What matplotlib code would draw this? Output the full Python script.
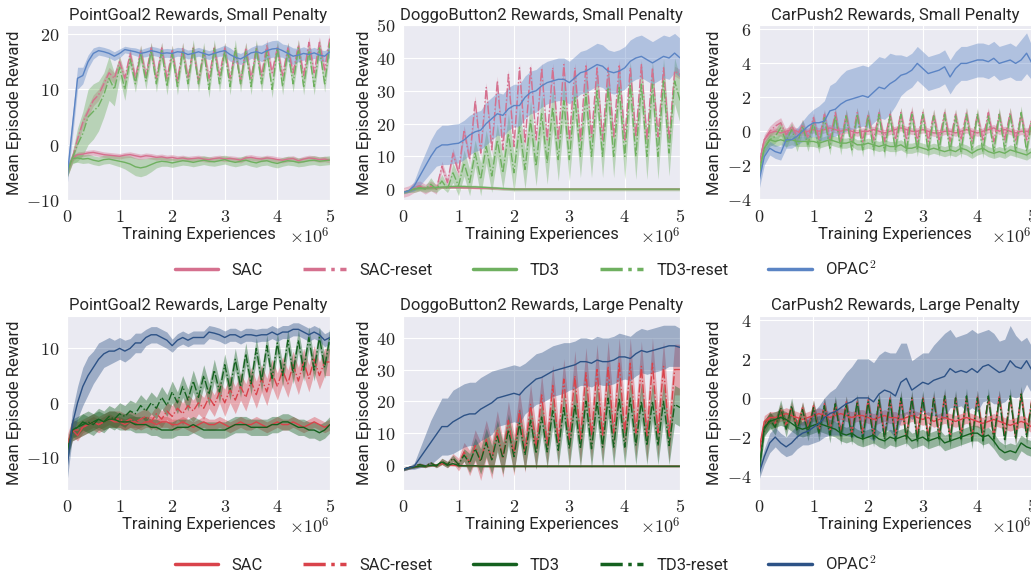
import numpy as np
import matplotlib
matplotlib.use("Agg")
import matplotlib.pyplot as plt
import seaborn as sns
from matplotlib.lines import Line2D
from matplotlib.ticker import FuncFormatter

sns.set_style("darkgrid")
plt.rcParams["font.family"] = ["Roboto", "DejaVu Sans"]
plt.rcParams["mathtext.fontset"] = "cm"

# training experiences, in millions (one sample every 1e5 steps)
steps = np.round(np.arange(51) * 0.1, 1)

# ---------------- PointGoal2, small penalty ----------------
pg_small_sac = [
    -5, -2.5, -1.8, -1.7, -1.5, -1.4, -1.6, -1.8, -1.9, -2.0,
    -2.1, -1.9, -1.8, -2.0, -2.2, -2.0, -2.1, -2.3, -2.2, -2.4,
    -2.3, -2.5, -2.4, -2.6, -2.5, -2.4, -2.6, -2.7, -2.5, -2.4,
    -2.6, -2.5, -2.6, -2.8, -2.4, -2.3, -2.5, -2.6, -2.4, -2.5,
    -2.7, -2.8, -2.6, -2.5, -2.9, -2.6, -2.4, -2.5, -2.7, -2.6,
    -2.8,
]
pg_small_sac_reset = [
    -5, -2.5, 1, 4, 6, 8, 9, 11, 13, 12,
    15, 12, 16.5, 12, 17, 12.5, 17.5, 12, 17.5, 12,
    17, 11.5, 17.5, 12, 17.5, 11.5, 17, 12, 17.5, 12.5,
    17.5, 12, 17, 11.5, 17.5, 12, 17.5, 12.5, 18, 13,
    17.5, 12.5, 17.5, 13, 18, 12.5, 18.5, 13, 18.5, 13.5,
    19.5,
]
pg_small_td3 = [
    -5, -2.5, -2.4, -2.6, -2.5, -2.8, -3.0, -2.7, -2.6, -2.8,
    -3.0, -3.2, -3.5, -4.0, -4.2, -4.0, -3.6, -3.2, -3.0, -3.1,
    -3.3, -3.1, -2.9, -3.0, -3.2, -3.0, -2.8, -3.0, -3.1, -2.9,
    -2.7, -3.0, -3.2, -3.0, -2.8, -3.1, -3.3, -3.0, -2.9, -3.2,
    -3.4, -3.1, -2.9, -3.0, -3.2, -3.1, -2.9, -2.8, -3.0, -2.9,
    -2.8,
]
pg_small_td3_band = [
    1, 0.8, 0.8, 0.8, 0.8, 0.8, 0.8, 0.8, 0.8, 0.9,
    1.0, 1.2, 1.5, 1.6, 1.6, 1.5, 1.3, 1.0, 0.9, 0.8,
    0.8, 0.8, 0.8, 0.8, 0.8, 0.8, 0.8, 0.8, 0.8, 0.8,
    0.8, 0.8, 0.8, 0.8, 0.8, 0.8, 0.8, 0.8, 0.8, 0.8,
    0.8, 0.8, 0.8, 0.8, 0.8, 0.8, 0.8, 0.8, 0.8, 0.8,
    0.8,
]
pg_small_td3_reset = [
    -5, -2.5, 0, 2, 5, 6, 7, 9, 12, 10,
    14, 10, 15.5, 11, 16.5, 11.5, 17, 11, 17, 10.5,
    16.5, 10.5, 17, 11, 17.5, 11, 17, 10, 17.5, 11,
    17, 10.5, 17.5, 11, 17, 10.5, 17.5, 11, 17, 10,
    17.5, 10.5, 17, 11, 17.5, 10.5, 17, 10.5, 17.5, 11,
    18.5,
]
pg_small_td3_reset_band = [
    1, 1, 3, 4, 5, 5, 4.5, 4, 4, 3,
    2, 2, 1.5, 1.5, 1.5, 1.5, 1.5, 1.5, 1.5, 1.5,
    1.5, 1.5, 1.5, 1.5, 1.5, 1.5, 1.5, 1.5, 1.5, 1.5,
    1.5, 1.5, 1.5, 1.5, 1.5, 1.5, 1.5, 1.5, 1.5, 1.5,
    1.5, 1.5, 1.5, 1.5, 1.5, 1.5, 1.5, 1.5, 1.5, 1.5,
    1.5,
]
pg_small_opac = [
    -6, 3, 12, 12.5, 15, 16.5, 17, 16.8, 16.5, 16,
    16.5, 17.2, 17, 16.8, 16.5, 16.7, 17, 16.8, 16.5, 16.6,
    16.5, 16.8, 16.7, 16.3, 16.5, 16.8, 16.5, 16.2, 16.5, 16.8,
    17, 16.3, 15.8, 15.5, 16, 16.6, 16.8, 16.5, 17, 17.3,
    17.4, 17, 16.5, 16, 16.2, 16.5, 16.3, 16.6, 16.2, 16,
    16.8,
]
pg_small_opac_band = [
    1.5, 2, 2, 1.5, 1.2, 1, 0.8, 0.8, 0.8, 0.8,
    0.8, 0.6, 0.6, 0.7, 0.7, 0.8, 0.8, 0.8, 0.8, 0.8,
    0.8, 0.8, 0.8, 0.8, 0.8, 0.8, 0.8, 0.8, 0.8, 0.8,
    1, 1.2, 1, 1, 1, 1, 1.2, 1.5, 1.5, 1.5,
    1.5, 1.2, 1.5, 1.5, 1.2, 1.2, 1, 1, 1, 1,
    1,
]

# ---------------- DoggoButton2, small penalty ----------------
db_small_sac = [
    -1, -0.5, 0.2, 0.3, 0.3, 0.4, 0.4, 0.5, 0.5, 0.5,
    0.5, 0.4, 0.4, 0.3, 0.3, 0.3, 0.2, 0.2, 0.1, 0.1,
    0.0, 0.0, 0.0, 0.0, 0.0, 0.0, 0.0, 0.0, 0.0, 0.0,
    0.0, 0.0, 0.0, 0.0, 0.0, 0.0, 0.0, 0.0, 0.0, 0.0,
    0.0, 0.0, 0.0, 0.0, 0.0, 0.0, 0.0, 0.0, 0.0, 0.0,
    0.0,
]
db_small_sac_reset = [
    -1, -0.5, 0.5, 1, 0, 1, 0, 7, 2, 11,
    5, 18, 9, 27, 11, 31, 12, 33, 12, 35,
    13, 37, 14, 37, 15, 37, 15, 37, 15, 38,
    15, 37, 15, 38, 16, 37, 15, 37, 16, 38,
    15, 37, 16, 38, 15, 37, 16, 37, 15, 36,
    35,
]
db_small_td3 = [
    -1, -0.5, 0.1, 0.2, 0.3, 0.4, 0.5, 0.6, 0.7, 0.8,
    0.8, 0.8, 0.7, 0.7, 0.6, 0.5, 0.4, 0.3, 0.2, 0.1,
    0.0, 0.0, 0.0, 0.0, 0.0, 0.0, 0.0, 0.0, 0.0, 0.0,
    0.0, 0.0, 0.0, 0.0, 0.0, 0.0, 0.0, 0.0, 0.0, 0.0,
    0.0, 0.0, 0.0, 0.0, 0.0, 0.0, 0.0, 0.0, 0.0, 0.0,
    0.0,
]
db_small_td3_reset = [
    -1, -0.5, 0, 0.5, 0, 1.5, 0, 2.5, 0, 5,
    1, 8, 2, 11, 3, 13, 4, 15, 5, 17,
    5, 19, 6, 21, 7, 23, 8, 25, 9, 27,
    9, 28, 10, 29, 10, 30, 10, 31, 10, 31,
    10, 32, 10, 32, 10, 32, 10, 33, 11, 33,
    27,
]
db_small_td3_reset_band = [
    0.3, 0.5, 1, 1, 1, 2, 1, 2, 1, 3,
    3, 4, 4, 4, 5, 5, 5, 5, 5, 6,
    6, 6, 6, 6, 6, 6, 6.5, 6.5, 6.5, 6.5,
    6.5, 6.5, 6.5, 6.5, 6.5, 6.5, 6.5, 6.5, 6.5, 6.5,
    7, 7, 7, 7, 7, 7, 7, 7, 7, 7,
    7,
]
db_small_opac = [
    -1, -0.5, 1, 4, 7, 10, 12.5, 13.5, 13.5, 13.8,
    14, 15, 16.5, 17.5, 18, 20, 21.5, 23, 22.5, 24.5,
    25.5, 25.5, 28, 29.5, 30, 31.5, 32.5, 33, 33.5, 33.5,
    32.5, 34, 35.5, 36, 37, 38, 37.5, 36, 35.5, 36,
    37, 39, 40, 40.5, 39.5, 38.5, 39.5, 40.5, 40, 41.5,
    40,
]
db_small_opac_band = [
    0.3, 0.5, 1.5, 3, 4, 5, 5.5, 6, 6, 6,
    6, 6, 6, 6, 6, 6.5, 6.5, 6.5, 6.5, 6.5,
    6.5, 6.5, 6.5, 6.5, 6.5, 6.5, 6.5, 6.5, 6.5, 6.5,
    6.5, 6.5, 6.5, 6.5, 6.5, 6.5, 6.5, 6.5, 6.5, 6.5,
    6.5, 6.5, 6.5, 6.5, 6.5, 6.5, 6.5, 6.5, 6.5, 6,
    6,
]

# ---------------- CarPush2, small penalty ----------------
cp_small_sac = [
    -2, -0.5, -0.1, 0, -0.1, 0, 0.1, 0, -0.1, 0,
    0.1, 0, 0.1, 0.2, 0.1, 0, 0.1, 0, -0.1, 0,
    0, 0.1, 0, -0.1, 0, 0.1, 0.2, 0.1, 0, 0,
    0.1, 0, -0.1, -0.1, 0, 0, -0.1, 0, 0.1, 0,
    -0.1, 0, 0.1, 0.2, 0, 0.1, 0, -0.1, 0, 0,
    0,
]
cp_small_sac_reset = [
    -2, -0.5, 0, 0.3, 0.5, -0.2, 0.3, -0.3, 0.4, -0.4,
    0.8, -0.5, 1.0, -0.5, 1.1, -0.6, 1.0, -0.6, 1.1, -0.6,
    1.0, -0.5, 1.1, -0.6, 1.0, -0.5, 1.1, -0.5, 1.2, -0.6,
    1.1, -0.6, 1.0, -0.5, 1.1, -0.6, 1.0, -0.5, 1.1, -0.6,
    1.0, -0.5, 1.1, -0.6, 1.0, -0.5, 1.1, -0.6, 1.0, -0.5,
    0.8,
]
cp_small_td3 = [
    -2.5, -1, -0.5, -0.6, -0.5, -0.6, -0.5, -0.6, -0.6, -0.6,
    -0.6, -0.7, -0.6, -0.5, -0.6, -0.7, -0.7, -0.6, -0.8, -0.8,
    -0.7, -0.8, -0.9, -0.8, -0.9, -0.9, -0.8, -1.0, -1.0, -0.9,
    -1.0, -1.1, -1.0, -1.1, -1.2, -1.1, -1.2, -1.0, -1.1, -1.3,
    -1.1, -1.0, -1.2, -1.3, -1.2, -1.3, -1.1, -1.2, -1.3, -1.4,
    -1.2,
]
cp_small_td3_reset = [
    -2.5, -1, -0.5, -0.3, 0.2, -0.6, 0.1, -0.8, 0.3, -0.8,
    0.5, -0.9, 0.8, -1.0, 0.9, -1.0, 0.9, -1.1, 1.0, -1.1,
    0.9, -1.1, 1.0, -1.2, 0.9, -1.1, 1.0, -1.2, 1.0, -1.1,
    1.0, -1.2, 0.9, -1.1, 1.0, -1.2, 0.9, -1.2, 1.0, -1.1,
    1.0, -1.2, 0.9, -1.2, 1.0, -1.1, 1.0, -1.2, 1.1, -1.2,
    0.8,
]
cp_small_opac = [
    -3, -1.5, -1, -1.2, -1.3, -0.5, -0.5, -0.3, 0, 0.3,
    0.5, 0.5, 0.6, 1.2, 1.3, 1.6, 1.8, 1.9, 2.0, 2.1,
    2.0, 2.3, 2.6, 2.5, 2.8, 3.0, 3.3, 3.4, 3.6, 4.0,
    3.7, 3.4, 3.5, 3.6, 3.8, 3.2, 3.7, 4.0, 4.0, 4.1,
    4.2, 4.2, 4.1, 4.3, 4.0, 4.1, 4.2, 4.0, 4.2, 4.6,
    4.0,
]
cp_small_opac_band = [
    0.5, 0.5, 0.4, 0.4, 0.4, 0.5, 0.5, 0.5, 0.6, 0.7,
    0.8, 1.0, 1.2, 1.5, 1.6, 1.7, 1.8, 1.8, 1.8, 1.8,
    1.8, 1.8, 1.8, 1.8, 1.8, 1.5, 1.2, 1.0, 1.0, 1.0,
    1.0, 1.0, 1.0, 1.0, 1.0, 1.0, 1.0, 1.0, 1.0, 1.0,
    1.0, 1.0, 1.0, 1.0, 1.0, 1.0, 1.0, 1.0, 1.2, 1.2,
    1.0,
]

# ---------------- PointGoal2, large penalty ----------------
pg_large_sac = [
    -8, -5, -6, -4.5, -4, -3.5, -4, -3.5, -3, -3.5,
    -3.5, -4, -3.5, -3.5, -4, -3.5, -3.5, -4, -3.5, -3.5,
    -4, -4, -3.5, -4, -4.5, -4, -3.5, -4, -4, -3.5,
    -4, -4.5, -4, -3.5, -4, -4, -3.5, -4, -4.5, -4,
    -3.5, -4, -4, -3.5, -4, -4.5, -4, -3.5, -4, -4.5,
    -4,
]
pg_large_sac_reset = [
    -8, -5, -5, -4.5, -4, -3.5, -4, -3.5, -3, -3,
    -3, -3.5, -3, -3.5, -3, -2.5, -3.5, -2, -3, -1.5,
    -2.5, -1, -2, -0.5, -1.5, 0, -1, 1, -0.5, 2,
    0, 2.5, 0.5, 3, 1, 4, 1.5, 4.5, 2, 5.5,
    3, 6, 3.5, 7, 4, 7.5, 4.5, 8, 5, 7.5,
    7.5,
]
pg_large_sac_reset_band = [
    2, 2, 1.5, 1.5, 1.5, 1.5, 1.5, 1.5, 1.5, 1.5,
    1.5, 1.5, 1.5, 1.5, 1.5, 1.5, 1.5, 1.5, 1.5, 1.5,
    2, 2, 2, 2, 2, 2, 2, 2, 2, 2,
    2.5, 2.5, 2.5, 2.5, 2.5, 2.5, 2.5, 2.5, 2.5, 2.5,
    2.5, 2.5, 2.5, 2.5, 2.5, 2.5, 2.5, 2.5, 2.5, 2.5,
    2.5,
]
pg_large_td3 = [
    -9, -5, -4.5, -3.5, -4, -3.5, -3, -3.5, -3, -3,
    -3.5, -3.5, -3.5, -4, -4, -4, -4.5, -4.5, -5, -5,
    -5, -4.5, -4.5, -4.5, -4, -4.5, -5, -5, -5, -5,
    -5, -4.5, -4, -4, -4, -4.5, -4.5, -4.5, -4.5, -4,
    -4, -3.5, -3.5, -4, -4.5, -4.5, -5, -5, -5.5, -5,
    -4,
]
pg_large_td3_reset = [
    -9, -5, -4.5, -4, -3.5, -4, -3, -3.5, -2.5, -3,
    -2, -2.5, -1.5, -2, -0.5, -1.5, 0, -1, 1, -0.5,
    2, 0, 3, 0.5, 4, 1, 5, 1.5, 6, 2,
    7, 2.5, 8, 3, 9, 3.5, 10, 4, 10.5, 4.5,
    11, 5, 11.5, 5.5, 11.5, 6, 12, 6, 12, 6.5,
    12,
]
pg_large_opac = [
    -12, -4, 0, 3, 5, 6.5, 8, 9, 9.5, 9.5,
    10, 9.5, 10, 11, 11, 12, 12.5, 12.5, 12, 11.5,
    10.5, 11.5, 12, 11.5, 12, 12, 12, 13, 12.8, 12.5,
    12, 12.5, 12.5, 12, 12.5, 12.5, 12.3, 12.5, 12.5, 13,
    12.5, 13, 13, 13.5, 13.5, 13, 12.5, 13, 12.5, 11.5,
    12,
]
pg_large_opac_band = [
    2.5, 2.5, 3, 3.5, 3.5, 3, 3, 2.5, 2.5, 2,
    2, 2, 1.8, 1.8, 1.8, 1.5, 1.5, 1.5, 1.5, 1.5,
    1.2, 1.2, 1.2, 1.2, 1.2, 1.2, 1.2, 1.2, 1.2, 1.2,
    1.2, 1.2, 1.2, 1.2, 1.2, 1.2, 1.2, 1.2, 1.2, 1.2,
    1.2, 1.2, 1.2, 1.2, 1.2, 1.2, 1.2, 1.2, 1.2, 1.2,
    1.2,
]

# ---------------- DoggoButton2, large penalty ----------------
db_large_sac = [
    -1.5, -1, -0.8, -0.5, -0.5, -0.3, -0.2, 0.3, 0, -0.2,
    -0.3, -0.3, -0.4, -0.4, -0.4, -0.5, -0.5, -0.5, -0.5, -0.5,
    -0.5, -0.5, -0.5, -0.5, -0.5, -0.5, -0.5, -0.5, -0.5, -0.5,
    -0.5, -0.5, -0.5, -0.5, -0.5, -0.5, -0.5, -0.5, -0.5, -0.5,
    -0.5, -0.5, -0.5, -0.5, -0.5, -0.5, -0.5, -0.5, -0.5, -0.5,
    -0.5,
]
db_large_sac_reset = [
    -1.5, -1, -0.5, 0, -0.5, 0.5, -0.5, 1, 0, 2,
    0, 4, 0.5, 6, 1, 8, 1.5, 11, 2, 14,
    3, 17, 4, 19, 5, 22, 6, 25, 7, 27,
    8, 28, 8, 29, 9, 30, 9, 31, 10, 32,
    10, 32, 10, 31, 9, 32, 10, 31, 9, 30,
    30,
]
db_large_sac_reset_band = [
    0.5, 0.5, 0.5, 0.5, 0.5, 0.5, 0.5, 1, 1, 1.5,
    2, 3, 4, 5, 6, 6, 6, 6, 6, 6,
    6.5, 6.5, 6.5, 6.5, 6.5, 6.5, 6.5, 6.5, 6.5, 6.5,
    8, 8, 8, 8, 8, 8, 8, 8, 8, 8,
    8, 8, 8, 8, 8, 8, 8, 8, 8, 8,
    8,
]
db_large_td3 = [
    -1.5, -1, -0.8, -0.5, -0.5, -0.3, -0.2, 0.8, -0.2, 0.3,
    -0.3, -0.4, -0.4, -0.4, -0.5, -0.5, -0.5, -0.5, -0.5, -0.5,
    -0.5, -0.5, -0.5, -0.5, -0.5, -0.5, -0.5, -0.5, -0.5, -0.5,
    -0.5, -0.5, -0.5, -0.5, -0.5, -0.5, -0.5, -0.5, -0.5, -0.5,
    -0.5, -0.5, -0.5, -0.5, -0.5, -0.5, -0.5, -0.5, -0.5, -0.5,
    -0.5,
]
db_large_td3_reset = [
    -1.5, -1, -0.5, 0, -0.5, 0.5, -0.5, 1, 0, 2,
    0, 3, 0.5, 5, 1, 7, 1.5, 9, 2, 11,
    2.5, 13, 3, 14, 3.5, 15, 4, 17, 4.5, 18,
    5, 19, 5, 20, 5, 20, 5.5, 21, 5.5, 21,
    5.5, 21, 6, 20, 6, 20, 6, 20, 6, 19,
    18,
]
db_large_td3_reset_band = [
    0.5, 0.5, 0.5, 0.5, 0.5, 0.5, 0.5, 1, 1, 1,
    1, 2, 3, 3.5, 4, 4.5, 4.5, 5, 5, 5,
    5, 5, 5, 5, 5, 5, 5, 5, 5, 5,
    6, 6, 6, 6, 6, 6, 6, 6, 6, 6,
    6, 6, 6, 6, 6, 6, 6, 6, 6, 6,
    6,
]
db_large_opac = [
    -1.5, -1, -0.5, 2, 4.5, 7, 9.5, 12, 12, 13.5,
    14.5, 15.5, 16, 16, 17.5, 18.5, 19.5, 21, 21.5, 22,
    22.5, 22, 24, 25.5, 27, 27.5, 28.5, 29.5, 30, 30.5,
    31, 31.5, 32.5, 32.5, 32, 33, 32.5, 32.5, 33, 34,
    34, 33.5, 35, 36, 35.5, 36, 36.5, 37, 37.5, 37.5,
    37,
]
db_large_opac_band = [
    0.5, 0.5, 1, 3, 5, 7, 8, 9, 9, 10,
    10, 10, 10, 10, 10, 10, 10, 9, 9, 9,
    9, 9, 8, 8, 8, 8, 8, 8, 8, 8,
    7.5, 7.5, 7.5, 7.5, 7.5, 7.5, 7.5, 7.5, 7.5, 7.5,
    7, 7, 7, 7, 7, 7, 7, 7, 6.5, 6.5,
    6,
]

# ---------------- CarPush2, large penalty ----------------
cp_large_sac = [
    -2.7, -1.2, -1.0, -1.0, -0.9, -0.8, -0.9, -1.0, -1.1, -1.0,
    -0.9, -0.8, -0.9, -1.0, -0.9, -0.8, -0.9, -1.0, -0.9, -0.9,
    -1.0, -1.1, -1.0, -0.9, -1.0, -1.0, -1.1, -1.0, -0.9, -1.0,
    -1.1, -1.0, -1.2, -1.1, -1.0, -1.1, -1.2, -1.1, -1.0, -1.1,
    -1.2, -1.3, -1.2, -1.1, -1.2, -1.3, -1.4, -1.3, -1.2, -1.3,
    -1.5,
]
cp_large_sac_reset = [
    -2.8, -1.5, -1.0, -1.3, -0.6, -1.4, -0.5, -1.5, -0.5, -1.6,
    -0.4, -1.7, -0.3, -1.7, -0.3, -1.8, -0.2, -1.8, -0.2, -1.8,
    -0.1, -1.9, -0.1, -1.9, 0, -1.9, 0, -2.0, 0, -1.9,
    0, -2.0, 0, -1.9, 0.1, -2.0, 0, -1.9, 0, -2.0,
    0.1, -1.9, 0, -2.0, 0.1, -1.9, 0, -2.0, 0.2, -1.8,
    0,
]
cp_large_td3 = [
    -3.8, -1.5, -1.2, -1.1, -1.0, -1.1, -1.3, -1.5, -1.6, -1.5,
    -1.4, -1.3, -1.4, -1.5, -1.6, -1.8, -1.9, -1.8, -2.0, -2.1,
    -2.0, -1.9, -2.1, -2.2, -2.0, -2.1, -2.0, -1.9, -2.2, -2.1,
    -2.0, -2.2, -2.1, -2.0, -2.3, -2.2, -2.1, -2.0, -1.9, -1.8,
    -1.8, -2.0, -1.9, -2.2, -2.6, -2.8, -2.7, -2.8, -2.3, -2.5,
    -2.6,
]
cp_large_td3_reset = [
    -3.8, -1.6, -1.1, -1.5, -0.5, -1.6, -0.4, -1.7, -0.6, -1.8,
    -0.5, -1.8, -0.4, -1.9, -0.3, -2.0, -0.3, -2.0, -0.2, -2.1,
    -0.2, -2.1, -0.1, -2.1, -0.1, -2.2, 0, -2.1, 0, -2.2,
    0, -2.2, 0, -2.1, 0.1, -2.2, 0, -2.1, 0.1, -2.2,
    0, -2.2, 0.1, -2.1, 0, -2.2, 0.1, -2.1, 0.2, -2.0,
    -0.1,
]
cp_large_opac = [
    -3.9, -3, -2.3, -2, -2.3, -2.5, -2.3, -2, -1.8, -1.7,
    -1.5, -1.3, -1, -0.8, -0.7, -0.5, -0.3, -0.2, 0, 0,
    0, -0.2, 0.2, 0.4, 0.3, 0.1, 0.8, 1.0, 0.4, 0.6,
    0.8, 0.7, 0.9, 1.0, 1.1, 1.5, 1.3, 1.4, 1.3, 1.5,
    1.3, 1.6, 1.7, 1.5, 1.3, 1.4, 1.9, 1.6, 1.5, 1.9,
    1.4,
]
cp_large_opac_band = [
    0.3, 0.4, 0.5, 0.5, 0.5, 0.5, 0.6, 0.6, 0.6, 0.7,
    0.8, 0.9, 1.0, 1.1, 1.2, 1.4, 1.6, 1.8, 2.0, 2.0,
    2.0, 2.0, 2.0, 2.0, 2.0, 2.2, 2.0, 1.8, 1.5, 1.5,
    1.5, 1.6, 1.8, 2.0, 2.2, 2.0, 1.8, 1.8, 2.0, 2.0,
    2.0, 1.8, 1.8, 1.8, 1.6, 1.6, 1.8, 1.6, 1.4, 1.2,
    1.2,
]

methods = ["SAC", "SAC-reset", "TD3", "TD3-reset", "OPAC$^2$"]

# (mean, half-width of the shaded band) per method, in `methods` order
panels = [
    ("PointGoal2 Rewards, Small Penalty", (-10, 21.6), [-10, 0, 10, 20], [
        (pg_small_sac, 0.5), (pg_small_sac_reset, 1.0),
        (pg_small_td3, pg_small_td3_band), (pg_small_td3_reset, pg_small_td3_reset_band),
        (pg_small_opac, pg_small_opac_band)]),
    ("DoggoButton2 Rewards, Small Penalty", (-3.3, 50), [0, 10, 20, 30, 40, 50], [
        (db_small_sac, 0.3), (db_small_sac_reset, 1.5),
        (db_small_td3, 0.5), (db_small_td3_reset, db_small_td3_reset_band),
        (db_small_opac, db_small_opac_band)]),
    ("CarPush2 Rewards, Small Penalty", (-4.05, 6.25), [-4, -2, 0, 2, 4, 6], [
        (cp_small_sac, 0.2), (cp_small_sac_reset, 0.3),
        (cp_small_td3, 0.3), (cp_small_td3_reset, 0.4),
        (cp_small_opac, cp_small_opac_band)]),
    ("PointGoal2 Rewards, Large Penalty", (-16, 16), [-10, 0, 10], [
        (pg_large_sac, 1.0), (pg_large_sac_reset, pg_large_sac_reset_band),
        (pg_large_td3, 1.5), (pg_large_td3_reset, 2.0),
        (pg_large_opac, pg_large_opac_band)]),
    ("DoggoButton2 Rewards, Large Penalty", (-8, 47), [0, 10, 20, 30, 40], [
        (db_large_sac, 0.3), (db_large_sac_reset, db_large_sac_reset_band),
        (db_large_td3, 0.3), (db_large_td3_reset, db_large_td3_reset_band),
        (db_large_opac, db_large_opac_band)]),
    ("CarPush2 Rewards, Large Penalty", (-4.7, 4.2), [-4, -2, 0, 2, 4], [
        (cp_large_sac, 0.3), (cp_large_sac_reset, 0.3),
        (cp_large_td3, 0.4), (cp_large_td3_reset, 0.4),
        (cp_large_opac, cp_large_opac_band)]),
]

light = ["#d5708e", "#d5708e", "#6fb060", "#6fb060", "#5b84c4"]
dark = ["#d9434b", "#d9434b", "#15611f", "#15611f", "#2d5286"]
styles = ["-", "-.", "-", "-.", "-"]

fig = plt.figure(figsize=(10.31, 5.73), dpi=100)

lefts = [0.065, 0.391, 0.736]
widths = [0.255, 0.2687, 0.265]
bottoms = [0.651, 0.145]
heights = [0.305, 0.304]

tick_fmt = FuncFormatter(lambda v, pos: rf"${v:g}$")

for i, (title, ylim, yticks, curves) in enumerate(panels):
    row, col = divmod(i, 3)
    colors = light if row == 0 else dark
    ax = fig.add_axes([lefts[col], bottoms[row], widths[col], heights[row]])
    for (mean, band), color, ls in zip(curves, colors, styles):
        mean = np.asarray(mean, dtype=float)
        band = np.broadcast_to(np.asarray(band, dtype=float), mean.shape)
        ax.fill_between(steps, mean - band, mean + band, color=color,
                        alpha=0.4, linewidth=0)
        ax.plot(steps, mean, color=color, linestyle=ls, linewidth=1.0)
    ax.set_xlim(0, 5)
    ax.set_ylim(*ylim)
    ax.set_xticks([0, 1, 2, 3, 4, 5])
    ax.set_yticks(yticks)
    ax.xaxis.set_major_formatter(tick_fmt)
    ax.yaxis.set_major_formatter(tick_fmt)
    ax.tick_params(labelsize=13, pad=2)
    ax.set_title(title, fontsize=12, pad=4)
    ax.set_xlabel("Training Experiences", fontsize=12, labelpad=1)
    ax.set_ylabel("Mean Episode Reward", fontsize=12, labelpad=3)
    ax.annotate(r"$\times10^{6}$", xy=(1, 0), xycoords="axes fraction",
                xytext=(0, -37), textcoords="offset pixels",
                ha="right", va="center", fontsize=13)

for row, y in enumerate([0.532, 0.017]):
    colors = light if row == 0 else dark
    handles = [Line2D([], [], color=c, linestyle=ls, linewidth=2.5)
               for c, ls in zip(colors, styles)]
    fig.legend(handles, methods, loc="center", bbox_to_anchor=(0.51, y),
               ncol=5, frameon=False, fontsize=12, handlelength=2.6,
               handletextpad=0.8, columnspacing=2.4)

fig.savefig("out.png", dpi=100)
